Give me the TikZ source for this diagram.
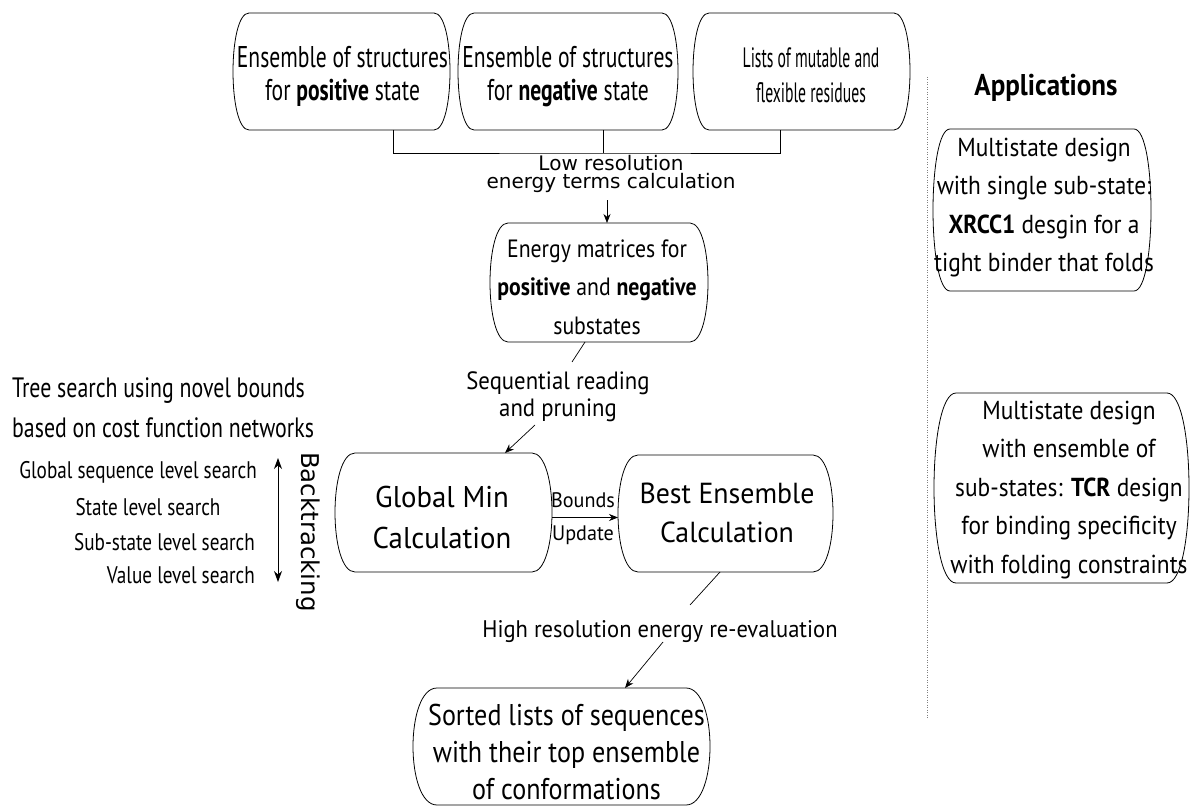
\documentclass[tikz,border=0pt]{standalone}
\usepackage{fontspec}
\setmainfont{PT Sans}
\newfontfamily\fTop[FakeStretch=0.72]{PT Sans}
\newfontfamily\fList[FakeStretch=0.56]{PT Sans}
\newfontfamily\fEn[FakeStretch=0.87]{PT Sans}
\newfontfamily\fSeq[FakeStretch=0.91]{PT Sans}
\newfontfamily\fGM[FakeStretch=0.96]{PT Sans}
\newfontfamily\fHigh[FakeStretch=0.94]{PT Sans}
\newfontfamily\fSort[FakeStretch=0.87]{PT Sans}
\newfontfamily\fApp[FakeStretch=0.9]{PT Sans}
\newfontfamily\fTree[FakeStretch=0.78]{PT Sans}
\newfontfamily\fLeft[FakeStretch=0.8]{PT Sans}
\newfontfamily\fDV{DejaVu Sans}
\usetikzlibrary{arrows.meta}
\newcommand\capsule[2]{%
  \draw[boxline] ([xshift=#2]#1.north west) -- ([xshift=-#2]#1.north east)
    .. controls ([xshift=#2/3]#1.north east) and ([xshift=#2/3]#1.south east) .. ([xshift=-#2]#1.south east)
    -- ([xshift=#2]#1.south west)
    .. controls ([xshift=-#2/3]#1.south west) and ([xshift=-#2/3]#1.north west) .. cycle;}
\tikzset{
  boxline/.style={line width=0.8pt, black},
  box/.style={inner sep=0pt, outer sep=0pt, draw=none},
  txt/.style={inner sep=0pt, align=center},
  conn/.style={line width=0.7pt, black},
  arr/.style={line width=0.7pt, black, -{Stealth[length=9pt,width=7pt]}},
  dbl/.style={line width=0.8pt, black, {Stealth[length=11pt,width=8pt]}-{Stealth[length=11pt,width=8pt]}},
}
\begin{document}
\begin{tikzpicture}[x=1pt,y=-1pt]
\useasboundingbox (0,0) rectangle (1190,805);
% boxes
\node[box, minimum width=217pt, minimum height=117pt] (p) at (341.5,71.5) {};
\node[box, minimum width=220pt, minimum height=117pt] (n) at (568,71.5) {};
\node[box, minimum width=217pt, minimum height=117pt] (l) at (801.5,71.5) {};
\node[box, minimum width=218pt, minimum height=119pt] (e) at (599,282.5) {};
\node[box, minimum width=217pt, minimum height=119pt] (g) at (443.5,512.5) {};
\node[box, minimum width=215pt, minimum height=117pt] (b) at (725.5,513.5) {};
\node[box, minimum width=297pt, minimum height=117pt] (s) at (561.5,746.5) {};
\node[box, minimum width=218pt, minimum height=162pt] (a1) at (1042,210) {};
\node[box, minimum width=255pt, minimum height=190pt] (a2) at (1061.5,488) {};
\capsule{p}{16}
\capsule{n}{16}
\capsule{l}{16}
\capsule{e}{18}
\capsule{g}{20}
\capsule{b}{20}
\capsule{s}{24}
\capsule{a1}{17}
\capsule{a2}{22}
% box texts
\node[txt, font={\fTop\fontsize{30}{33}\selectfont}] (pt) at (342.5,76.5) {Ensemble of structures\\for \textbf{positive} state};
\node[txt, font={\fTop\fontsize{30}{33}\selectfont}] (nt) at (568,76.5) {Ensemble of structures\\for \textbf{negative} state};
\node[txt, font={\fList\fontsize{28}{35}\selectfont}] (lt) at (811,75.5) {Lists of mutable and\\flexible residues};
\node[txt, font={\fEn\fontsize{25}{38.5}\selectfont}] (et) at (597,287) {Energy matrices for\\\textbf{positive} and \textbf{negative}\\substates};
\node[txt, font={\fGM\fontsize{30}{41}\selectfont}] (gt) at (442,517.5) {Global Min\\Calculation};
\node[txt, font={\fGM\fontsize{29}{39}\selectfont}] (bt) at (727,512.5) {Best Ensemble\\Calculation};
\node[txt, font={\fSort\fontsize{30}{37}\selectfont}] (st) at (566.5,751.5) {Sorted lists of sequences\\with their top ensemble\\of conformations};
\node[txt, font={\fApp\fontsize{26}{38.5}\selectfont}] (a1t) at (1044,207.5) {Multistate design\\with single sub-state:\\\textbf{XRCC1} desgin for a\\tight binder that folds};
\node[txt, font={\fApp\fontsize{26}{38.5}\selectfont}] (a2t) at (1069,490) {Multistate design\\with ensemble of\\sub-states: \textbf{TCR} design\\for binding specificity\\with folding constraints};
\node[txt, font={\fApp\bfseries\fontsize{30}{36}\selectfont}] (apt) at (1046,88) {Applications};
% labels
\node[txt, font={\fDV\fontsize{20}{18}\selectfont}] (lowt) at (611,174) {Low resolution\\energy terms calculation};
\node[txt, font={\fSeq\fontsize{25}{27}\selectfont}] (seqt) at (558,396.5) {Sequential reading\\and pruning};
\node[txt, font={\fGM\fontsize{21}{33}\selectfont}] (bndt) at (583,518.5) {Bounds\\Update};
\node[txt, font={\fHigh\fontsize{24}{28}\selectfont}] (hight) at (660,632) {High resolution energy re-evaluation};
\node[txt, align=left, anchor=west, font={\fTree\fontsize{28}{40}\selectfont}] (treet) at (12,408) {Tree search using novel bounds\\based on cost function networks};
\node[txt, anchor=east, font={\fLeft\fontsize{24}{28}\selectfont}] (l1) at (257,472) {Global sequence level search};
\node[txt, font={\fLeft\fontsize{24}{28}\selectfont}] (l2) at (148,507) {State level search};
\node[txt, anchor=east, font={\fLeft\fontsize{24}{28}\selectfont}] (l3) at (255,542) {Sub-state level search};
\node[txt, anchor=east, font={\fLeft\fontsize{24}{28}\selectfont}] (l4) at (255,575) {Value level search};
\node[txt, rotate=-90, font={\fDV\fontsize{24.5}{26}\selectfont}] (backt) at (308,532) {Backtracking};
% connectors
\coordinate (br) at (603,153);
\draw[conn] ([xshift=51.5pt]p.south) |- (br) -| ([xshift=-21.5pt]l.south);
\draw[conn] ([xshift=35pt]n.south) -- ([xshift=35pt]n.south |- br);
\coordinate (c0) at (607,200);
\draw[arr] (c0) -- (c0 |- e.north);
\coordinate (c1) at (572,362);
\draw[conn] ([xshift=-14pt]e.south) -- (c1);
\coordinate (c2) at (535,425);
\draw[arr] (c2) -- ([xshift=61.5pt]g.north);
\draw[arr] ([yshift=-5pt]g.east) -- ([yshift=-5pt]g.east -| b.west);
\coordinate (c3) at (690,605);
\draw[conn] ([xshift=-5.5pt]b.south) -- (c3);
\coordinate (c4) at (663,642);
\draw[arr] (c4) -- ([xshift=63.5pt]s.north);
\coordinate (bt1) at (278,458);
\coordinate (bt2) at (278,582);
\draw[dbl] (bt1) -- (bt2);
\coordinate (d1) at (927,77);
\coordinate (d2) at (927,718);
\draw[gray, line width=0.5pt, dash pattern=on 1pt off 1.5pt] (d1) -- (d2);
\end{tikzpicture}
\end{document}
